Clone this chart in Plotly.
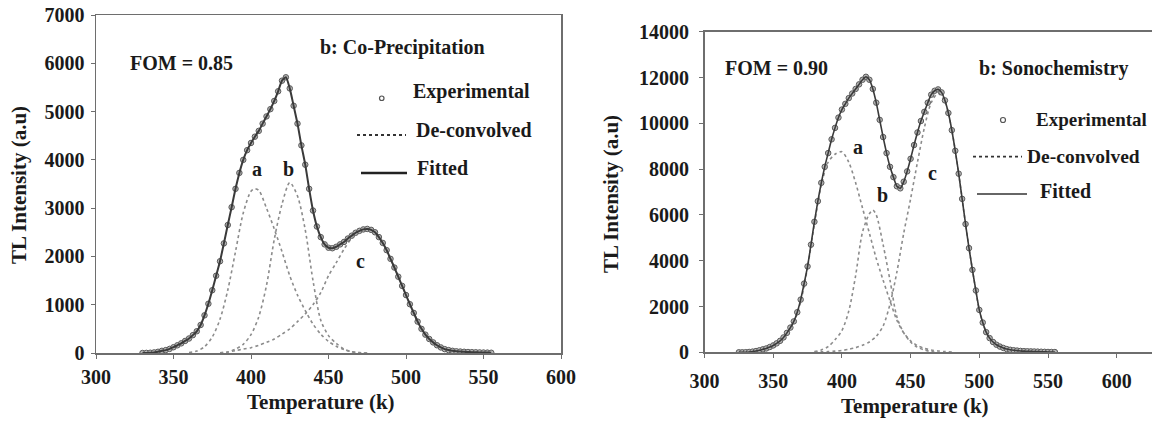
import plotly.graph_objects as go

W, H = 1152, 423

# ---------------- data: left panel (Co-Precipitation) ----------------
EXP1 = [0, 2, 5, 12, 25, 45, 60, 85, 120, 160, 200, 250, 300, 370, 450, 580, 780, 1020,
        1300, 1600, 1900, 2270, 2650, 3020, 3400, 3730, 4000, 4200, 4350, 4480, 4600, 4750,
        4900, 5050, 5220, 5420, 5640, 5710, 5480, 5120, 4750, 4300, 3900, 3400, 2950, 2620,
        2400, 2250, 2180, 2170, 2200, 2250, 2300, 2370, 2430, 2490, 2530, 2560, 2570, 2550,
        2500, 2400, 2280, 2130, 1950, 1770, 1580, 1390, 1200, 1010, 830, 650, 500, 380, 290,
        220, 160, 115, 80, 60, 45, 35, 30, 25, 20, 17, 15, 12, 10, 8, 5]
T1_START = 330.0
T_STEP = 2.5

A1_T = [360, 365, 370, 375, 380, 385, 390, 395, 400, 402.5, 405, 410, 415, 420, 425, 430, 435,
        440, 445, 450, 455, 460, 465, 470, 475]
A1_V = [10, 40, 130, 330, 700, 1300, 2100, 2900, 3350, 3400, 3370, 3000, 2570, 2100, 1600,
        1200, 880, 600, 390, 240, 140, 70, 25, 8, 0]
B1_T = [380, 385, 390, 395, 400, 405, 410, 415, 420, 425, 430, 435, 440, 445, 450, 455, 460,
        465, 470, 475]
B1_V = [5, 20, 80, 180, 380, 750, 1400, 2350, 3080, 3530, 3250, 2550, 1500, 680, 360, 200, 80,
        25, 5, 0]
C1_T = [380, 385, 390, 395, 400, 405, 410, 415, 420, 425, 430, 435, 440, 445, 450, 455, 460,
        465, 470, 475, 480, 485, 490, 495, 500, 505, 510, 515, 520, 525, 530, 535, 540, 545]
C1_V = [5, 20, 50, 80, 110, 160, 220, 290, 390, 500, 650, 810, 1000, 1250, 1600, 1870, 2150,
        2380, 2520, 2560, 2500, 2280, 1950, 1580, 1200, 830, 500, 290, 160, 80, 40, 15, 5, 0]

# ---------------- data: right panel (Sonochemistry) ----------------
EXP2 = [0, 0, 5, 15, 30, 55, 90, 130, 170, 230, 300, 390, 500, 650, 850, 1080, 1350, 1750,
        2300, 3000, 3750, 4700, 5700, 6600, 7400, 8100, 8700, 9300, 9800, 10250, 10600, 10850,
        11100, 11300, 11500, 11700, 11900, 12030, 11900, 11500, 10900, 10150, 9400, 8700, 8100,
        7650, 7250, 7160, 7450, 7900, 8450, 9050, 9600, 10100, 10500, 10900, 11250, 11420,
        11480, 11350, 11000, 10450, 9700, 8800, 7800, 6700, 5600, 4550, 3600, 2700, 1850, 1300,
        880, 620, 450, 330, 250, 190, 140, 110, 90, 75, 60, 50, 45, 40, 35, 30, 25, 20, 15, 12, 10]
T2_START = 325.0

A2_T = [330, 335, 340, 345, 350, 355, 360, 365, 370, 375, 380, 385, 390, 395, 400, 405, 410,
        415, 420, 425, 430, 435, 440, 445, 450, 455, 460, 465, 470, 475, 480]
A2_V = [0, 20, 70, 150, 280, 480, 800, 1300, 2200, 3700, 5600, 7300, 8300, 8650, 8760, 8300,
        7400, 6300, 5200, 4100, 3150, 2250, 1400, 850, 500, 290, 170, 100, 60, 30, 10]
B2_T = [380, 385, 390, 395, 400, 405, 410, 415, 420, 422.5, 425, 430, 435, 440, 445, 450, 455,
        460, 465, 470]
B2_V = [30, 100, 250, 550, 950, 1800, 3350, 5250, 6050, 6214, 6000, 4700, 3150, 1550, 850, 450,
        220, 100, 30, 0]
C2_T = [380, 385, 390, 395, 400, 405, 410, 415, 420, 425, 430, 435, 440, 445, 450, 455, 460,
        465, 470, 475, 480, 485, 490, 495, 500, 505, 510, 515, 520, 525, 530, 535, 540, 545]
C2_V = [10, 20, 30, 50, 80, 130, 200, 310, 450, 700, 1150, 2100, 3500, 5200, 6700, 8300, 9800,
        10900, 11300, 10950, 9700, 7800, 5600, 3600, 1850, 880, 440, 230, 120, 60, 30, 15, 5, 0]

X_TICKS = [300, 350, 400, 450, 500, 550, 600]
Y1_TICKS = [0, 1000, 2000, 3000, 4000, 5000, 6000, 7000]
Y2_TICKS = [0, 2000, 4000, 6000, 8000, 10000, 12000, 14000]

T1 = [T1_START + T_STEP * i for i in range(len(EXP1))]
T2 = [T2_START + T_STEP * i for i in range(len(EXP2))]

SERIF = "Liberation Serif"
TXT = "#1a1a1a"
AX = "#6e6e6e"


def px(x):
    return x / W


def py(y):
    return 1 - y / H


fig = go.Figure()


def add_panel(xa, ya, T, E, decon, fit_w):
    for tt, vv in decon:
        fig.add_trace(go.Scatter(x=tt, y=vv, xaxis=xa, yaxis=ya, mode="lines",
                                 line=dict(color="#8c8c8c", width=1.6, dash="dot",
                                           shape="spline", smoothing=0.8),
                                 showlegend=False, hoverinfo="skip"))
    fig.add_trace(go.Scatter(x=T, y=E, xaxis=xa, yaxis=ya, mode="markers",
                             marker=dict(symbol="circle", size=5.5, color="#b5b5b5",
                                         line=dict(color="#5a5a5a", width=1)),
                             showlegend=False, hoverinfo="skip"))
    fig.add_trace(go.Scatter(x=T, y=E, xaxis=xa, yaxis=ya, mode="lines",
                             line=dict(color="#3a3a3a", width=fit_w, shape="spline",
                                       smoothing=0.6),
                             showlegend=False, hoverinfo="skip"))


add_panel("x", "y", T1, EXP1, [(A1_T, A1_V), (B1_T, B1_V), (C1_T, C1_V)], 2.0)
add_panel("x2", "y2", T2, EXP2, [(A2_T, A2_V), (B2_T, B2_V), (C2_T, C2_V)], 1.6)

tickfont = dict(family=SERIF, size=20, color=TXT, weight="bold")
common_x = dict(tickvals=X_TICKS, ticks="outside", ticklen=4, tickcolor=AX, tickwidth=1,
                showline=True, linecolor=AX, linewidth=1.5, showgrid=False, zeroline=False,
                tickfont=tickfont, automargin=False)
common_y = dict(ticks="outside", ticklen=4, tickcolor=AX, tickwidth=1, tickformat="d",
                showline=True, linecolor=AX, linewidth=1.5, showgrid=False, zeroline=False,
                tickfont=tickfont, automargin=False)

fig.update_layout(
    template="none",
    width=W, height=H, autosize=False,
    margin=dict(l=0, r=0, t=0, b=0, pad=0),
    paper_bgcolor="white", plot_bgcolor="white",
    showlegend=False,
    xaxis=dict(domain=[px(96), px(561)], range=[300, 600], anchor="y", mirror=True,
               ticklabelstandoff=1, **common_x),
    yaxis=dict(domain=[py(353), py(15)], range=[0, 7000], anchor="x", mirror=True,
               tickvals=Y1_TICKS, ticklabelstandoff=2, **common_y),
    xaxis2=dict(domain=[px(704.5), 1.0], range=[300, 300 + 447.5 / 1.374], anchor="y2",
                mirror=True, ticklabelstandoff=6, **common_x),
    yaxis2=dict(domain=[py(352.3), py(31.7)], range=[0, 14000], anchor="x2",
                tickvals=Y2_TICKS, ticklabelstandoff=6, **common_y),
)

ann = []


def text(x, y, s, size=20, xanchor="left", angle=0, xref="paper", yref="paper"):
    ann.append(dict(x=x, y=y, xref=xref, yref=yref, text=s, showarrow=False,
                    xanchor=xanchor, yanchor="middle", textangle=angle,
                    font=dict(family=SERIF, size=size, color=TXT, weight="bold")))


# axis titles
text(px(19), py(185), "TL Intensity (a.u)", size=21, xanchor="center", angle=-90)
text(px(611), py(194), "TL Intensity (a.u)", size=21, xanchor="center", angle=-90)
text(px(321), py(402), "Temperature (k)", size=21, xanchor="center")
text(px(915), py(406), "Temperature (k)", size=21, xanchor="center")

# panel texts
text(px(128), py(63), "FOM = 0.85", size=20)
text(px(318), py(47), "b: Co-Precipitation", size=20)
text(px(723), py(68), "FOM = 0.90", size=20)
text(px(977), py(68), "b: Sonochemistry", size=20)

# peak labels (data coords)
text(403.9, 3812, "a", size=20, xanchor="center", xref="x", yref="y")
text(424.5, 3812, "b", size=20, xanchor="center", xref="x", yref="y")
text(470.8, 1902, "c", size=20, xanchor="center", xref="x", yref="y")
text(411.9, 8978, "a", size=20, xanchor="center", xref="x2", yref="y2")
text(429.7, 6869, "b", size=20, xanchor="center", xref="x2", yref="y2")
text(466.1, 7843, "c", size=20, xanchor="center", xref="x2", yref="y2")

# legend texts
text(px(411), py(92), "Experimental", size=20)
text(px(414), py(130), "De-convolved", size=20)
text(px(415), py(168), "Fitted", size=20)
text(px(1034), py(120), "Experimental", size=19)
text(px(1025), py(156), "De-convolved", size=19.5)
text(px(1038), py(191), "Fitted", size=20)

fig.update_layout(annotations=ann)

shapes = []
# legend symbols, left
shapes.append(dict(type="circle", xref="paper", yref="paper",
                   x0=px(379.5), x1=px(384), y0=py(100.5), y1=py(96),
                   line=dict(color="#555", width=1.2)))
shapes.append(dict(type="line", xref="paper", yref="paper", x0=px(357), x1=px(406),
                   y0=py(135), y1=py(135), line=dict(color="#333", width=1.8, dash="dot")))
shapes.append(dict(type="line", xref="paper", yref="paper", x0=px(361), x1=px(407),
                   y0=py(173), y1=py(173), line=dict(color="#222", width=2.5)))
# legend symbols, right
shapes.append(dict(type="circle", xref="paper", yref="paper",
                   x0=px(1000.5), x1=px(1005.5), y0=py(122.5), y1=py(117.5),
                   line=dict(color="#555", width=1.2)))
shapes.append(dict(type="line", xref="paper", yref="paper", x0=px(973), x1=px(1022),
                   y0=py(156.7), y1=py(156.7), line=dict(color="#333", width=1.8, dash="dot")))
shapes.append(dict(type="line", xref="paper", yref="paper", x0=px(977), x1=px(1027),
                   y0=py(194), y1=py(194), line=dict(color="#333", width=1.4)))
fig.update_layout(shapes=shapes)

fig.write_html(
    "out.html",
    config={"displayModeBar": False, "staticPlot": True},
    post_script="document.body.style.margin='0';document.body.style.padding='0';"
                "document.body.style.overflow='hidden';"
                "document.documentElement.style.overflow='hidden';",
)
